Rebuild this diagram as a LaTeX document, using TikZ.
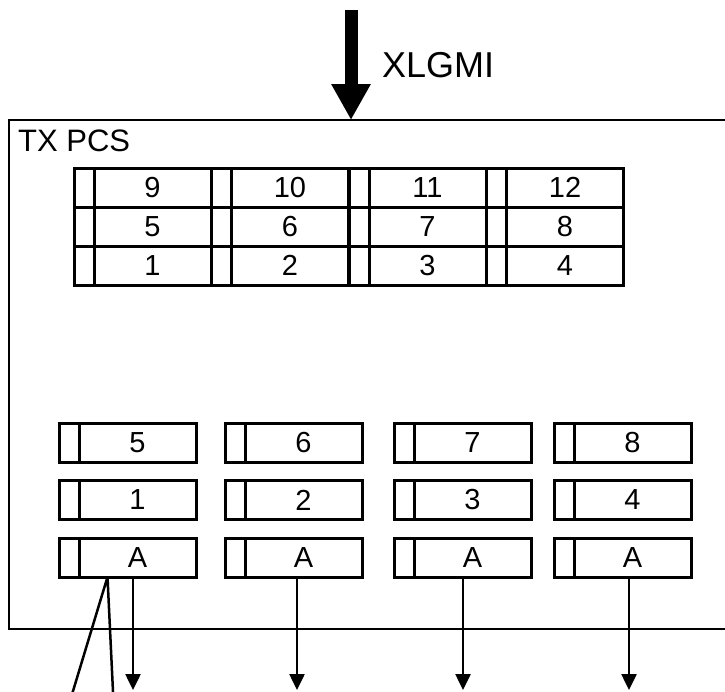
\documentclass[tikz,border=0pt]{standalone}
\usepackage{fontspec}
\setmainfont{Liberation Sans}
\usetikzlibrary{arrows.meta,positioning}

\tikzset{
  slot/.style={draw, line width=3pt, minimum width=117pt, minimum height=39pt,
    inner sep=0pt, outer sep=0pt, font=\fontsize{29}{34}\selectfont},
  tabcell/.style={draw, line width=3pt, minimum width=20pt, minimum height=39pt,
    inner sep=0pt, outer sep=0pt, left=0pt of #1},
  outlane/.style={line width=2.5pt, -{Triangle[width=15pt,length=16pt]}},
}

\begin{document}
\begin{tikzpicture}[x=1pt, y=-1pt]
    %%Frame
    \clip (0,0) rectangle (725,691);
    \draw[line width=2.5pt] (9,120) rectangle (740,629);
    \node[anchor=base west, inner sep=0pt, font=\fontsize{31}{36}\selectfont] (pcs) at (18,151) {TX PCS};
    %% Input
    \coordinate (src) at (351,10);
    \coordinate (top) at (351,120);
    \draw[line width=13pt, -{Triangle[width=37pt,length=36pt]}] (src) -- (top);
    \node[anchor=base west, inner sep=0pt, font=\fontsize{36}{42}\selectfont] (xlgmi) at (382,77) {XLGMI};

    %% Lane buffer
    \draw
    (152.5,187.5) node[slot] (t9) {9}
    (290,187.5) node[slot] (t10) {10}
    (427.5,187.5) node[slot] (t11) {11}
    (565,187.5) node[slot] (t12) {12}
    (152.5,226.5) node[slot] (t5) {5}
    (290,226.5) node[slot] (t6) {6}
    (427.5,226.5) node[slot] (t7) {7}
    (565,226.5) node[slot] (t8) {8}
    (152.5,265.5) node[slot] (t1) {1}
    (290,265.5) node[slot] (t2) {2}
    (427.5,265.5) node[slot] (t3) {3}
    (565,265.5) node[slot] (t4) {4}
    ;
    \path
    node[tabcell=t9] {} node[tabcell=t10] {} node[tabcell=t11] {} node[tabcell=t12] {}
    node[tabcell=t5] {} node[tabcell=t6] {} node[tabcell=t7] {} node[tabcell=t8] {}
    node[tabcell=t1] {} node[tabcell=t2] {} node[tabcell=t3] {} node[tabcell=t4] {}
    ;

    %% Output lanes
    \draw
    (137.5,442.5) node[slot] (b5) {5}
    (303.5,442.5) node[slot] (b6) {6}
    (472.5,442.5) node[slot] (b7) {7}
    (632.5,442.5) node[slot] (b8) {8}
    (137.5,500) node[slot] (b1) {1}
    (303.5,500) node[slot] (b2) {2}
    (472.5,500) node[slot] (b3) {3}
    (632.5,500) node[slot] (b4) {4}
    (137.5,557.5) node[slot] (a1) {A}
    (303.5,557.5) node[slot] (a2) {A}
    (472.5,557.5) node[slot] (a3) {A}
    (632.5,557.5) node[slot] (a4) {A}
    ;
    \path
    node[tabcell=b5] {} node[tabcell=b6] {} node[tabcell=b7] {} node[tabcell=b8] {}
    node[tabcell=b1] {} node[tabcell=b2] {} node[tabcell=b3] {} node[tabcell=b4] {}
    node[tabcell=a1] {} node[tabcell=a2] {} node[tabcell=a3] {} node[tabcell=a4] {}
    ;

    \coordinate (o1) at (133,690);
    \coordinate (o2) at (297,690);
    \coordinate (o3) at (463,690);
    \coordinate (o4) at (629,690);
    \draw[outlane] ([xshift=-4.5pt]a1.south) -- (o1);
    \draw[outlane] ([xshift=-6.5pt]a2.south) -- (o2);
    \draw[outlane] ([xshift=-9.5pt]a3.south) -- (o3);
    \draw[outlane] ([xshift=-3.5pt]a4.south) -- (o4);

    \coordinate (l1) at (70.3,700);
    \coordinate (l2) at (113.4,700);
    \draw[line width=2.5pt]
    ([xshift=-30pt]a1.south) -- (l1)
    ([xshift=-30pt]a1.south) -- (l2)
    ;
\end{tikzpicture}
\end{document}
